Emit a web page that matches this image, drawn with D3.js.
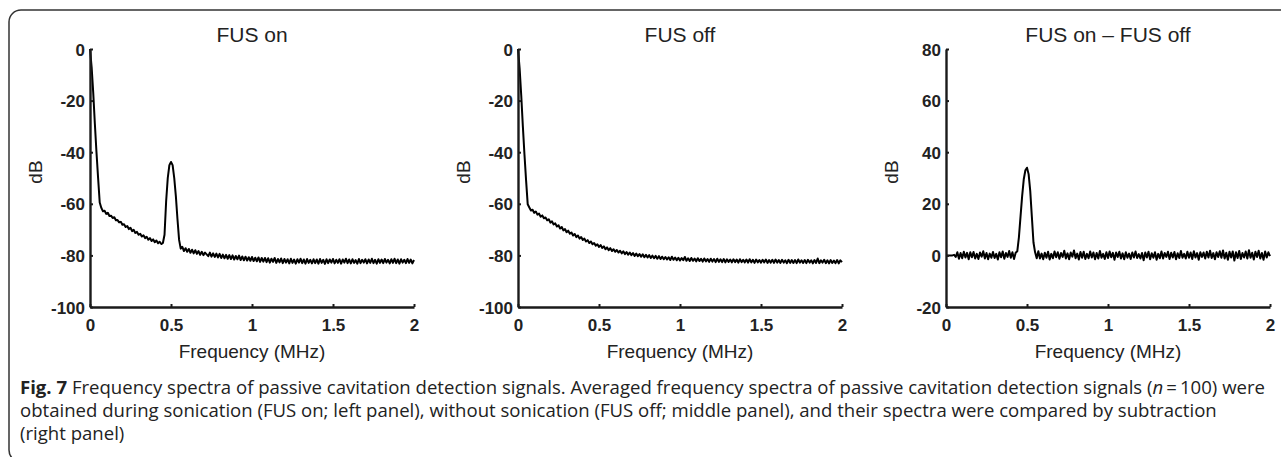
<!DOCTYPE html>
<html><head><meta charset="utf-8">
<script src="https://cdn.jsdelivr.net/npm/d3@7"></script>
<style>
html,body{margin:0;padding:0;background:#fff;}
svg{display:block;}
</style></head>
<body>
<svg id="chart" width="1281" height="457"></svg>
<script>
// ---------- DATA ----------
const freqMHz = [
0.00,0.01,0.02,0.03,0.04,0.05,0.06,0.07,0.08,0.09,
0.10,0.11,0.12,0.13,0.14,0.15,0.16,0.17,0.18,0.19,
0.20,0.21,0.22,0.23,0.24,0.25,0.26,0.27,0.28,0.29,
0.30,0.31,0.32,0.33,0.34,0.35,0.36,0.37,0.38,0.39,
0.40,0.41,0.42,0.43,0.44,0.45,0.46,0.47,0.48,0.49,
0.50,0.51,0.52,0.53,0.54,0.55,0.56,0.57,0.58,0.59,
0.60,0.61,0.62,0.63,0.64,0.65,0.66,0.67,0.68,0.69,
0.70,0.71,0.72,0.73,0.74,0.75,0.76,0.77,0.78,0.79,
0.80,0.81,0.82,0.83,0.84,0.85,0.86,0.87,0.88,0.89,
0.90,0.91,0.92,0.93,0.94,0.95,0.96,0.97,0.98,0.99,
1.00,1.01,1.02,1.03,1.04,1.05,1.06,1.07,1.08,1.09,
1.10,1.11,1.12,1.13,1.14,1.15,1.16,1.17,1.18,1.19,
1.20,1.21,1.22,1.23,1.24,1.25,1.26,1.27,1.28,1.29,
1.30,1.31,1.32,1.33,1.34,1.35,1.36,1.37,1.38,1.39,
1.40,1.41,1.42,1.43,1.44,1.45,1.46,1.47,1.48,1.49,
1.50,1.51,1.52,1.53,1.54,1.55,1.56,1.57,1.58,1.59,
1.60,1.61,1.62,1.63,1.64,1.65,1.66,1.67,1.68,1.69,
1.70,1.71,1.72,1.73,1.74,1.75,1.76,1.77,1.78,1.79,
1.80,1.81,1.82,1.83,1.84,1.85,1.86,1.87,1.88,1.89,
1.90,1.91,1.92,1.93,1.94,1.95,1.96,1.97,1.98,1.99,
2.00];

const fusOnDB = [
0,-7,-17,-29,-40,-50,-59.5,-61.6,-62.9,-62.7,
-63.9,-63.5,-64.7,-64.6,-65.5,-65.2,-66.4,-66.3,-67.2,-67.0,
-68.1,-67.9,-69.0,-68.6,-69.8,-69.3,-70.6,-70.1,-71.3,-70.9,
-72.0,-71.6,-72.7,-72.2,-73.3,-72.8,-73.9,-73.3,-74.4,-73.8,
-74.9,-74.2,-75.3,-74.7,-75.6,-75.2,-72,-59,-50,-45,
-43.8,-45,-50,-57,-66,-74,-77.4,-76.7,-78.3,-77.2,
-78.6,-77.5,-79.0,-77.8,-79.2,-78.0,-79.4,-78.3,-79.8,-78.6,
-79.9,-78.9,-79.6,-80.3,-78.9,-80.5,-79.2,-80.6,-79.3,-80.8,
-79.4,-81.0,-79.7,-81.1,-79.8,-81.3,-79.9,-81.4,-80.0,-81.6,
-80.2,-81.5,-80.1,-81.8,-80.4,-81.9,-80.5,-82.0,-80.7,-82.1,
-80.6,-82.2,-80.9,-82.3,-80.8,-82.5,-81.0,-82.4,-81.0,-82.6,
-81.1,-82.8,-81.3,-82.5,-81.0,-82.9,-81.4,-82.7,-81.2,-83.0,
-81.4,-82.8,-81.5,-83.1,-81.3,-82.9,-81.6,-83.2,-81.5,-82.8,
-81.3,-83.0,-81.6,-83.2,-81.4,-82.9,-81.7,-83.1,-81.5,-83.0,
-81.6,-83.2,-81.4,-82.9,-81.7,-83.3,-81.5,-83.0,-81.6,-82.8,
-81.4,-83.1,-81.7,-82.9,-81.5,-83.2,-81.6,-82.8,-81.3,-83.0,
-81.6,-83.1,-81.5,-82.9,-81.8,-83.2,-81.4,-83.0,-81.7,-82.8,
-81.5,-83.1,-81.6,-82.9,-81.3,-83.0,-81.7,-83.2,-81.5,-82.9,
-81.6,-83.0,-81.4,-82.8,-81.7,-83.1,-81.5,-82.9,-81.3,-83.0,
-81.6,-83.2,-81.5,-82.8,-81.7,-83.0,-81.4,-82.9,-81.6,-83.1,
-81.8];

const fusOffDB = [
0,-7.5,-18,-30,-41,-51,-60.2,-61.4,-62.6,-62.3,
-63.5,-63.0,-64.2,-63.8,-65.0,-64.5,-65.6,-65.3,-66.4,-66.0,
-67.3,-66.8,-68.0,-67.6,-68.8,-68.3,-69.6,-69.0,-70.3,-69.8,
-71.0,-70.4,-71.6,-71.1,-72.3,-71.7,-72.9,-72.3,-73.5,-72.9,
-74.0,-73.5,-74.6,-74.1,-75.2,-74.6,-75.7,-75.2,-76.2,-75.7,
-76.7,-76.0,-77.1,-76.5,-77.6,-76.9,-78.0,-77.2,-78.3,-77.6,
-78.6,-77.9,-78.9,-78.2,-79.2,-78.4,-79.5,-78.7,-79.7,-78.9,
-79.9,-79.1,-80.2,-79.3,-80.3,-79.5,-80.5,-79.6,-80.7,-79.8,
-80.8,-79.9,-81.0,-80.1,-81.1,-80.2,-81.3,-80.3,-81.4,-80.5,
-81.5,-80.6,-81.6,-80.7,-81.8,-80.5,-81.7,-80.8,-81.9,-80.9,
-82.0,-81.0,-81.9,-80.6,-82.1,-81.1,-82.2,-81.0,-82.1,-81.2,
-82.3,-81.1,-82.2,-81.3,-82.4,-81.2,-82.3,-81.4,-82.5,-81.3,
-82.4,-81.4,-82.6,-81.3,-82.5,-81.5,-82.6,-81.4,-82.7,-81.5,
-82.5,-81.6,-82.7,-81.5,-82.6,-81.6,-82.8,-81.5,-82.6,-81.7,
-82.7,-81.6,-82.8,-81.5,-82.7,-81.7,-82.9,-81.6,-82.7,-81.8,
-82.8,-81.7,-82.7,-81.6,-82.9,-81.8,-82.8,-81.7,-82.9,-81.6,
-82.8,-81.8,-82.9,-81.7,-82.8,-81.9,-83.0,-81.7,-82.9,-81.8,
-82.9,-81.8,-83.0,-81.6,-82.8,-81.9,-82.9,-81.8,-83.0,-81.7,
-82.8,-81.9,-83.1,-81.8,-82.9,-81.2,-83.0,-81.9,-82.8,-81.7,
-83.0,-81.9,-83.1,-81.8,-82.9,-82.0,-83.0,-81.8,-83.1,-81.9,
-82.6];

const diffDB = [
0,0,0,0,0,0.2,-0.6,1.2,-1.3,0.9,
-1.1,1.4,-0.8,1.0,-1.5,1.2,-0.7,1.3,-1.2,0.6,
-1.4,1.1,-0.5,1.6,-1.2,0.9,-1.5,0.7,-0.9,1.3,
-1.0,0.6,-1.6,1.2,-0.7,1.5,-1.3,0.9,-0.6,1.7,
-0.9,1.2,-1.4,1.0,1.6,7,15,23,29.5,33,
34,31.5,25,15,5,1.2,-1.1,1.6,-1.2,0.7,
-1.5,1.0,-0.9,1.4,-1.6,0.6,-1.1,1.5,-0.7,1.2,
-1.3,0.9,-0.6,1.8,-1.2,0.8,-1.5,1.1,-0.5,1.9,
-1.1,0.7,-1.6,1.3,-0.9,1.4,-1.4,0.6,-1.1,1.5,
-0.8,1.1,-1.5,0.9,-1.2,1.7,-0.9,0.6,-1.4,1.2,
-1.0,1.5,-0.7,1.0,-1.7,1.1,-0.6,1.4,-1.2,0.8,
-1.5,1.2,-0.9,0.7,-1.4,1.1,-0.8,1.5,-1.0,0.5,
-1.2,0.9,-1.9,1.1,-0.8,1.4,-1.5,0.8,-0.9,1.2,
-1.7,0.6,-1.1,1.5,-1.2,0.9,-0.6,1.4,-1.4,1.0,
-0.8,1.3,-1.5,0.8,-1.0,1.7,-0.9,0.6,-1.2,1.4,
-0.9,1.1,-1.4,1.6,-0.8,0.9,-1.7,1.2,-0.6,1.1,
-1.2,1.4,-0.8,1.8,-1.0,0.9,-1.5,1.2,-0.6,1.6,
-0.9,1.9,-1.2,1.0,-1.7,1.4,-0.8,1.5,-2.0,1.2,
-1.0,1.7,-1.4,0.9,-0.8,1.5,-1.2,2.0,-0.9,1.0,
-1.6,1.4,-0.6,1.8,-1.2,0.9,-1.7,1.5,-0.8,1.2,
-0.3];

const xTicks = [0, 0.5, 1, 1.5, 2];
const xTickLabels = ["0", "0.5", "1", "1.5", "2"];
const yTicksLevel = [-100, -80, -60, -40, -20, 0];
const yTicksDiff = [-20, 0, 20, 40, 60, 80];
const panelTitles = ["FUS on", "FUS off", "FUS on \u2013 FUS off"];
const xAxisTitle = "Frequency (MHz)";
const yAxisTitle = "dB";

// ---------- DRAW ----------
const svg = d3.select("#chart");
const FONT = "'Liberation Sans', Arial, Helvetica, sans-serif";

svg.append("rect")
  .attr("x", 9).attr("y", 10).attr("width", 1300).attr("height", 452)
  .attr("rx", 12).attr("ry", 12)
  .attr("fill", "none").attr("stroke", "#333").attr("stroke-width", 1.5);

const panels = [
  {x0: 90,  values: fusOnDB,  yDomain: [-100, 0], yTicks: yTicksLevel, title: panelTitles[0]},
  {x0: 518, values: fusOffDB, yDomain: [-100, 0], yTicks: yTicksLevel, title: panelTitles[1]},
  {x0: 946, values: diffDB,   yDomain: [-20, 80], yTicks: yTicksDiff,  title: panelTitles[2]}
];
const W = 324, TOP = 49, BOTTOM = 307;

panels.forEach(p => {
  const x = d3.scaleLinear().domain([0, 2]).range([p.x0, p.x0 + W]);
  const y = d3.scaleLinear().domain(p.yDomain).range([BOTTOM, TOP]);
  const g = svg.append("g");

  const line = d3.line().x((d, i) => x(freqMHz[i])).y(d => y(d));
  g.append("path").datum(p.values)
    .attr("d", line)
    .attr("fill", "none").attr("stroke", "#000")
    .attr("stroke-width", 2).attr("stroke-linejoin", "round");

  const xa = d3.axisBottom(x).tickValues(xTicks)
    .tickFormat((d, i) => xTickLabels[i]).tickSizeInner(-3).tickSizeOuter(0).tickPadding(12);
  const gx = g.append("g").attr("transform", `translate(0,${BOTTOM})`).call(xa);
  const ya = d3.axisLeft(y).tickValues(p.yTicks)
    .tickFormat(d => String(d)).tickSizeInner(-3).tickSizeOuter(0).tickPadding(5);
  const gy = g.append("g").attr("transform", `translate(${p.x0},0)`).call(ya);

  [gx, gy].forEach(a => {
    a.select(".domain").attr("stroke", "#1a1a1a").attr("stroke-width", 2.4);
    a.selectAll(".tick line").attr("stroke", "#1a1a1a").attr("stroke-width", 2);
    a.selectAll(".tick text")
      .attr("font-family", FONT).attr("font-weight", "bold")
      .attr("font-size", 17).attr("fill", "#222");
  });
  gy.selectAll(".tick text").attr("dy", "0.36em");

  g.append("text")
    .attr("x", p.x0 + W / 2).attr("y", 42)
    .attr("text-anchor", "middle")
    .attr("font-family", FONT).attr("font-size", 21).attr("fill", "#222")
    .text(p.title);

  g.append("text")
    .attr("x", p.x0 + W / 2).attr("y", 358)
    .attr("text-anchor", "middle")
    .attr("font-family", FONT).attr("font-size", 19).attr("fill", "#222")
    .text(xAxisTitle);

  g.append("text")
    .attr("transform", `translate(${p.x0 - 48},172) rotate(-90)`)
    .attr("text-anchor", "middle")
    .attr("font-family", FONT).attr("font-size", 19).attr("fill", "#222")
    .text(yAxisTitle);
});

// caption
const CAP = "'Open Sans', 'Noto Sans', sans-serif";
const capLines = [
  {y: 394, parts: [
    {t: "Fig. 7", w: "bold"},
    {t: " Frequency spectra of passive cavitation detection signals. Averaged frequency spectra of passive cavitation detection signals ("},
    {t: "n", s: "italic"},
    {t: "\u2009=\u2009100) were"}]},
  {y: 417, parts: [
    {t: "obtained during sonication (FUS on; left panel), without sonication (FUS off; middle panel), and their spectra were compared by subtraction"}]},
  {y: 440, parts: [{t: "(right panel)"}]}
];
const capNodes = capLines.map(L => {
  const t = svg.append("text")
    .attr("x", 20).attr("y", L.y)
    .attr("font-family", CAP).attr("font-size", 17.5).attr("fill", "#222");
  L.parts.forEach(p => {
    const ts = t.append("tspan").text(p.t);
    if (p.w) ts.attr("font-weight", p.w);
    if (p.s) ts.attr("font-style", p.s);
  });
  return t;
});
const natural = capNodes.map(t => t.node().getComputedTextLength());
const squeeze = 1245 / natural[0];
capNodes.forEach((t, i) => {
  t.attr("textLength", natural[i] * squeeze).attr("lengthAdjust", "spacingAndGlyphs");
});
</script>
</body></html>
